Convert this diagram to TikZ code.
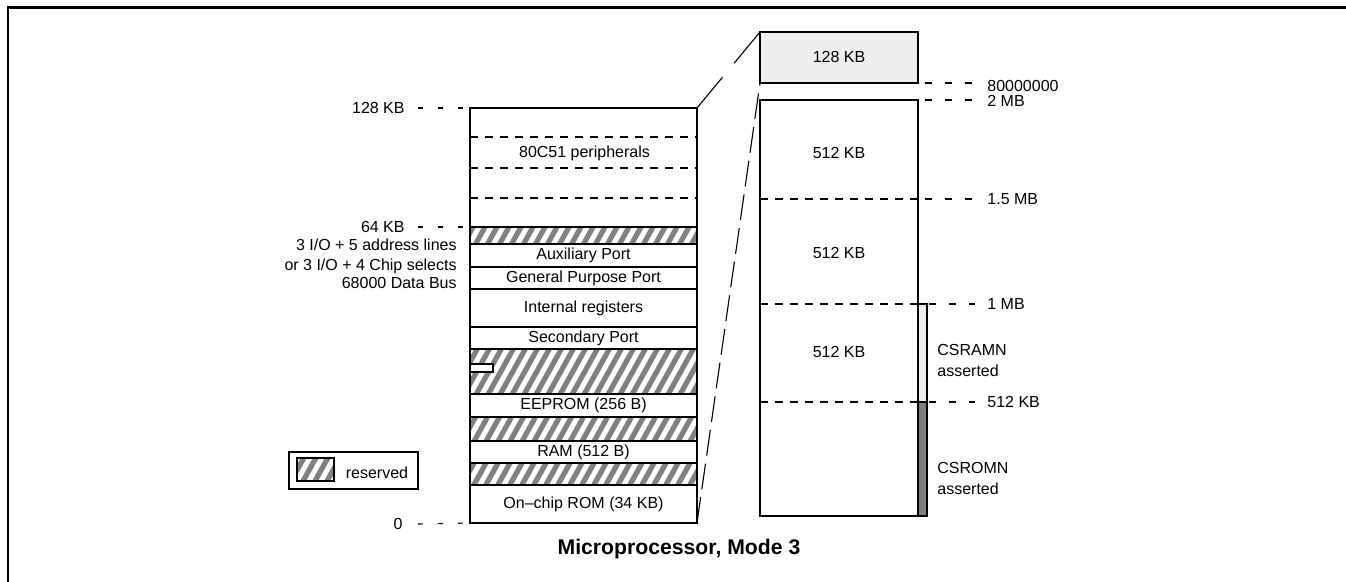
\documentclass[tikz,border=0pt]{standalone}
\usepackage{fontspec}
\setmainfont{Liberation Sans}
\usepackage{xcolor}
\usepackage{tikz}
\usetikzlibrary{positioning}
\definecolor{MapGray}{HTML}{808080}
\definecolor{MapLight}{HTML}{EEEEEE}
\tikzset{
  frame/.style={line width=1.3pt},
  cell/.style={draw,line width=0.55pt},
  hatchline/.style={draw=MapGray,line width=2.6pt},
  lefttick/.style={line width=0.55pt,dash pattern=on 2.5pt off 7.5pt},
  righttick/.style={line width=0.55pt,dash pattern=on 3.5pt off 6.5pt},
  split/.style={line width=0.55pt,dash pattern=on 4pt off 3.5pt},
  zoomup/.style={line width=0.55pt,dash pattern=on 20pt off 9pt},
  zoomdown/.style={line width=0.55pt,dash pattern=on 13pt off 4pt},
  txt/.style={inner sep=0pt,font=\fontsize{8}{10.5}\selectfont},
  title/.style={inner sep=0pt,font=\fontsize{10.6}{12}\selectfont\bfseries}
}
% white cell with grey diagonal stripes
\newcommand{\hatchbox}[4]{%
  \begin{scope}
    \clip (#1,#2) rectangle (#3,#4);
    \foreach \k in {-360,-348,...,240}
      \draw[hatchline] (#1+\k,600) -- ++(333,-600);
  \end{scope}
  \draw[cell] (#1,#2) rectangle (#3,#4);}

\begin{document}
\begin{tikzpicture}[x=0.5pt,y=-0.5pt]
  \useasboundingbox (0,0) rectangle (1346,582);
  \draw[frame] (8,582) -- (8,7.5) -- (1346,7.5);

  % left map
  \draw[cell] (470,108) rectangle (697,227);
  \foreach \y in {137,168,198}
    \draw[split] (470,\y) -- (697,\y);
  \hatchbox{470}{227}{697}{244}
  \draw[cell] (470,244) rectangle (697,267);
  \draw[cell] (470,267) rectangle (697,289);
  \draw[cell] (470,289) rectangle (697,327);
  \draw[cell] (470,327) rectangle (697,349);
  \hatchbox{470}{349}{697}{394}
  \draw[cell,fill=white] (470,364) rectangle (493,372);
  \draw[cell] (470,394) rectangle (697,417);
  \hatchbox{470}{417}{697}{441}
  \draw[cell] (470,441) rectangle (697,463);
  \hatchbox{470}{463}{697}{485}
  \draw[cell] (470,485) rectangle (697,523);

  \node[txt] (periph) at (584.5,153) {80C51 peripherals};
  \node[txt] (aux) at (583.5,255.5) {Auxiliary Port};
  \node[txt] (gpp) at (583.5,278) {General Purpose Port};
  \node[txt] (regs) at (583.5,308) {Internal registers};
  \node[txt] (sec) at (583.5,338) {Secondary Port};
  \node[txt] (eeprom) at (583.5,405.5) {EEPROM (256 B)};
  \node[txt] (ram) at (583.5,452) {RAM (512 B)};
  \node[txt] (rom) at (583.5,504.5) {On--chip ROM (34 KB)};

  % left addresses
  \node[txt,anchor=east] (a128) at (405,108) {128 KB};
  \node[txt,anchor=east] (a64) at (405,227) {64 KB};
  \node[txt,anchor=east] (a0) at (403,524) {0};
  \coordinate (t128) at (470,108);
  \coordinate (t64) at (470,227);
  \coordinate (t0) at (470,523);
  \draw[lefttick] (a128.east) ++(13,0) -- (t128);
  \draw[lefttick] (a64.east) ++(13,0) -- (t64);
  \draw[lefttick] (a0.east) ++(15,0) -- (t0);
  \node[txt,anchor=east] (io5) at (457,245) {3 I/O + 5 address lines};
  \node[txt,anchor=east] (io4) at (457,266) {or 3 I/O + 4 Chip selects};
  \node[txt,anchor=east] (bus) at (457,283) {68000 Data Bus};

  % legend
  \draw[cell] (289,452) rectangle (418,489);
  \hatchbox{297}{458}{334}{481}
  \node[txt] (resv) at (377,473) {reserved};

  % right map
  \draw[cell,fill=MapLight] (760,32) rectangle (918,83);
  \node[txt] (top) at (839,57) {128 KB};
  \draw[cell] (760,100) rectangle (918,516);
  \draw[split] (760,199) -- (918,199);
  \draw[split] (760,304) -- (918,304);
  \draw[split] (760,402) -- (918,402);
  \draw[cell,fill=MapLight] (918,304) rectangle (927,402);
  \draw[cell,fill=MapGray] (918,402) rectangle (927,516);
  \node[txt] (m3) at (839,153) {512 KB};
  \node[txt] (m2) at (839,253) {512 KB};
  \node[txt] (m1) at (839,352) {512 KB};

  % right addresses
  \node[txt,anchor=west] (b80) at (987,86) {80000000};
  \node[txt,anchor=west] (b2) at (987,101) {2 MB};
  \node[txt,anchor=west] (b15) at (987,199) {1.5 MB};
  \node[txt,anchor=west] (b1) at (987,304) {1 MB};
  \node[txt,anchor=west] (b512) at (987,402) {512 KB};
  \draw[righttick] (925,83) -- (975,83);
  \draw[righttick] (925,100) -- (975,100);
  \draw[righttick] (925,199) -- (975,199);
  \draw[righttick] (929,304) -- (975,304);
  \draw[righttick] (929,402) -- (975,402);
  \node[txt,anchor=west,align=left] (csram) at (937,360) {CSRAMN\\asserted};
  \node[txt,anchor=west,align=left] (csrom) at (937,478) {CSROMN\\asserted};

  % zoom lines
  \coordinate (lefttop) at (697,108);
  \coordinate (leftbot) at (697,523);
  \coordinate (hitop) at (760,32);
  \coordinate (hibot) at (760,83);
  \draw[zoomup] (lefttop) -- (hitop);
  \draw[zoomdown] (leftbot) -- (hibot);

  \node[title] (caption) at (679,549) {Microprocessor, Mode 3};
\end{tikzpicture}
\end{document}
